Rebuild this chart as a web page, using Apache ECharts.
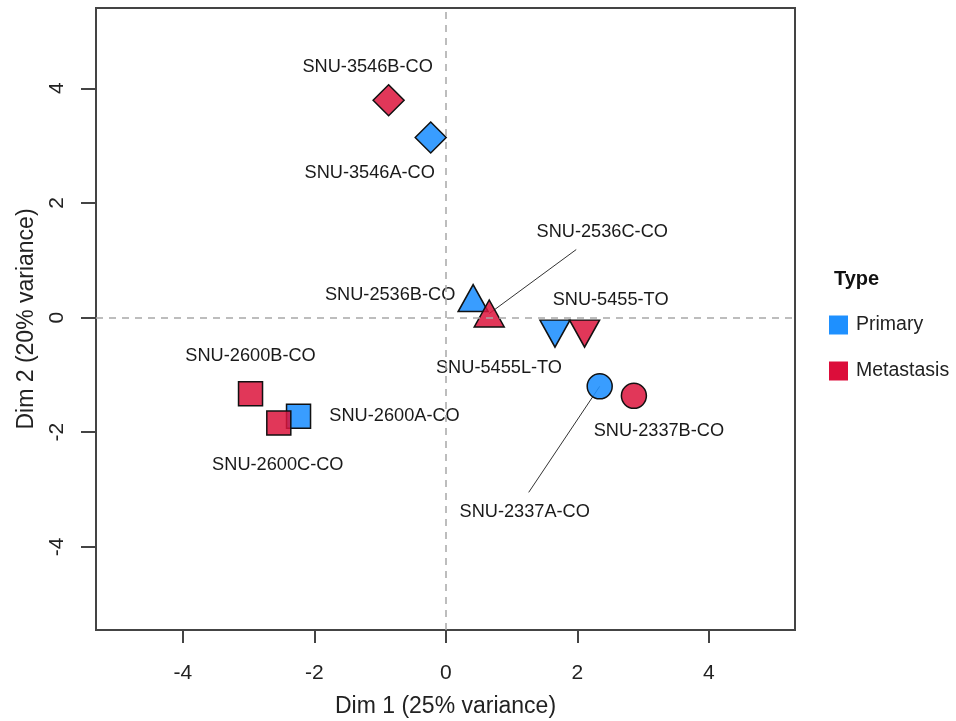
<!DOCTYPE html>
<html><head><meta charset="utf-8">
<script src="https://cdn.jsdelivr.net/npm/echarts@6/dist/echarts.min.js"></script>
<style>html,body{margin:0;padding:0;background:#fff}#c{width:956px;height:721px}</style>
</head><body><div id="c"></div>
<script>
// ---- data ----
const sampleNames = ['SNU-2337A-CO','SNU-2337B-CO','SNU-2536B-CO','SNU-2536C-CO','SNU-2600A-CO','SNU-2600B-CO','SNU-2600C-CO','SNU-3546A-CO','SNU-3546B-CO','SNU-5455L-TO','SNU-5455-TO'];
const dim1 = [2.34, 2.86, 0.415, 0.66, -2.24, -2.97, -2.54, -0.23, -0.87, 1.66, 2.11];
const dim2 = [-1.20, -1.365, 0.34, 0.07, -1.72, -1.33, -1.84, 3.14, 3.79, -0.28, -0.28];
const sampleType = ['Primary','Metastasis','Primary','Metastasis','Primary','Metastasis','Metastasis','Primary','Metastasis','Primary','Metastasis'];
const patient = ['2337','2337','2536','2536','2600','2600','2600','3546','3546','5455','5455'];
const typeLevels = ['Primary','Metastasis'];
const xTicks = [-4,-2,0,2,4];
const yTicks = [-4,-2,0,2,4];

// ---- styles ----
const fillColors = {Primary:'rgba(30,144,255,0.88)', Metastasis:'rgba(220,20,60,0.85)'};
const legendColors = {Primary:'#1E90FF', Metastasis:'#DC0D3A'};
const shapeStyle = {
  '2337': {symbol:'circle', size:25, rotate:0},
  '2536': {symbol:'triangle', size:[30,27], rotate:0},
  '2600': {symbol:'rect', size:24, rotate:0},
  '3546': {symbol:'diamond', size:31, rotate:0},
  '5455': {symbol:'triangle', size:[30,27], rotate:180}
};
// label centre offsets from the point (px)
const labelOffset = {
  'SNU-3546B-CO':[-21,-33], 'SNU-3546A-CO':[-61,35], 'SNU-2536B-CO':[-83,-3],
  'SNU-2536C-CO':[113,-82], 'SNU-5455-TO':[26,-34], 'SNU-5455L-TO':[-56,34],
  'SNU-2337A-CO':[-75,126], 'SNU-2337B-CO':[25,35], 'SNU-2600B-CO':[0,-38],
  'SNU-2600A-CO':[96,0], 'SNU-2600C-CO':[-1,42]
};
// leader line end, offset from the label centre (px); line starts at the point
const leaderEnd = {
  'SNU-2536C-CO': [-26,18],
  'SNU-2337A-CO': [4,-20]
};
const FONT = '"Liberation Sans", Arial, Helvetica, sans-serif';

const series = typeLevels.map(function(t, si){
  const data = [];
  for (let i = 0; i < sampleNames.length; i++) {
    if (sampleType[i] !== t) continue;
    const sh = shapeStyle[patient[i]];
    data.push({
      name: sampleNames[i],
      value: [dim1[i], dim2[i]],
      symbol: sh.symbol, symbolSize: sh.size, symbolRotate: sh.rotate
    });
  }
  const s = {
    type:'scatter', name:t, data:data, z: 3 + si,
    itemStyle:{color: fillColors[t], borderColor:'#111', borderWidth:1.5, opacity:1},
    label:{show:true, position:'inside', formatter:'{b}', color:'#1a1a1a', fontSize:18.2, fontFamily:FONT},
    labelLayout:function(p){ const o = labelOffset[p.text] || [0,0]; return {dx:o[0], dy:o[1]}; },
    emphasis:{disabled:true}, animation:false
  };
  if (si === 0) {
    s.markLine = {
      silent:true, symbol:'none', label:{show:false}, animation:false,
      lineStyle:{color:'#a8a8a8', type:[7,6], width:1.5},
      data:[{xAxis:0},{yAxis:0}]
    };
  }
  return s;
});

// leader lines (drawn beneath the symbols), from the data point to its displaced label
const leaderData = [];
for (let i = 0; i < sampleNames.length; i++) {
  if (leaderEnd[sampleNames[i]]) leaderData.push({name:sampleNames[i], value:[dim1[i], dim2[i]]});
}
series.unshift({
  type:'custom', name:'leaders', z:2, silent:true, animation:false,
  data: leaderData,
  renderItem:function(params, api){
    const p = api.coord([api.value(0), api.value(1)]);
    const nm = leaderData[params.dataIndex].name;
    const o = labelOffset[nm], e = leaderEnd[nm];
    return {type:'line', shape:{x1:p[0], y1:p[1], x2:p[0] + o[0] + e[0], y2:p[1] + o[1] + e[1]},
            style:{stroke:'#333', lineWidth:1}};
  }
});

const chart = echarts.init(document.getElementById('c'), null, {renderer:'canvas'});
chart.setOption({
  animation:false,
  backgroundColor:'#fff',
  title:{text:'Type', left:829, top:264, textStyle:{fontFamily:FONT, fontSize:20, fontWeight:'bold', color:'#111'}},
  legend:{
    orient:'vertical', left:824, top:310, itemWidth:19, itemHeight:19, itemGap:26,
    selectedMode:false,
    textStyle:{fontFamily:FONT, fontSize:19.5, color:'#222', padding:[0,0,0,3]},
    data: typeLevels.map(function(t){ return {name:t, icon:'rect', itemStyle:{color:legendColors[t], borderWidth:0, opacity:1}}; })
  },
  grid:{left:96, top:8, width:699, height:622, show:true, borderColor:'#444', borderWidth:2, backgroundColor:'transparent', outerBoundsMode:'none', containLabel:false},
  xAxis:{
    type:'value', min:-5.32, max:5.31,
    name:'Dim 1 (25% variance)', nameLocation:'middle', nameGap:65,
    nameTextStyle:{fontFamily:FONT, fontSize:23, color:'#222'},
    axisLine:{show:false, onZero:false},
    axisTick:{show:true, length:13, customValues:xTicks, lineStyle:{color:'#444', width:2}},
    axisLabel:{customValues:xTicks, fontFamily:FONT, fontSize:21, color:'#222', margin:33},
    splitLine:{show:false}
  },
  yAxis:{
    type:'value', min:-5.45, max:5.40,
    name:'Dim 2 (20% variance)', nameLocation:'middle', nameGap:58, nameRotate:90,
    nameTextStyle:{fontFamily:FONT, fontSize:23, color:'#222'},
    axisLine:{show:false, onZero:false},
    axisTick:{show:true, length:15, customValues:yTicks, lineStyle:{color:'#444', width:2}},
    axisLabel:{customValues:yTicks, rotate:90, fontFamily:FONT, fontSize:21, color:'#222', margin:28},
    splitLine:{show:false}
  },
  series:series
});
</script></body></html>
